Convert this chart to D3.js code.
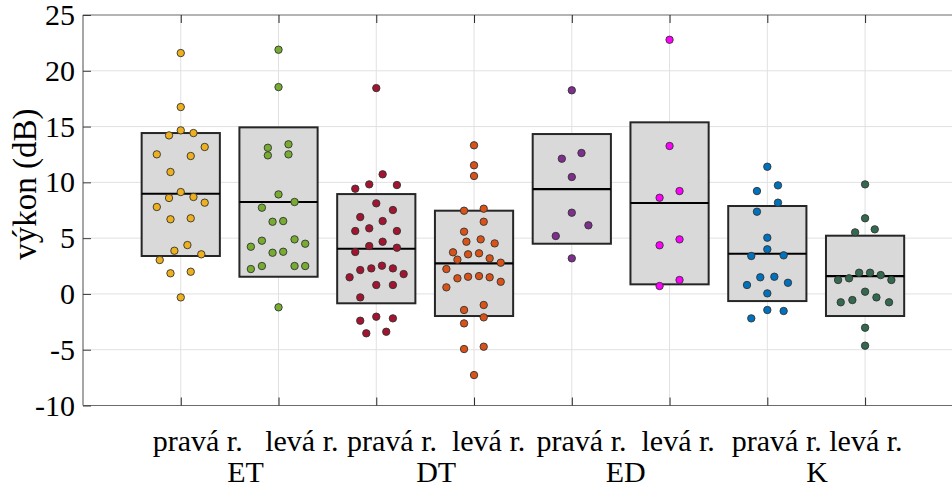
<!DOCTYPE html>
<html>
<head>
<meta charset="utf-8">
<script src="https://cdn.jsdelivr.net/npm/d3@7"></script>
<style>
  html, body { margin: 0; padding: 0; background: #fff; }
  svg text { font-family: "Liberation Serif", "Times New Roman", serif; fill: #000; }
</style>
</head>
<body>
<svg id="chart" width="952" height="488"></svg>
<script>
// Series order: ET (right, left), DT (right, left), ED (right, left), K (right, left)
const sideLabels = ["pravá r.", "levá r.", "pravá r.", "levá r.", "pravá r.", "levá r.", "pravá r.", "levá r."];
const groupNames = ["ET", "DT", "ED", "K"];
const groupLine1 = ["pravá r.   levá r.", "pravá r.  levá r.", "pravá r.  levá r.", "pravá r. levá r."];
const seriesColors = ["#EDB120", "#77AC30", "#A2142F", "#D95319", "#7E2F8E", "#FF00FF", "#0072BD", "#33694F"];

const yTicks = [-10, -5, 0, 5, 10, 15, 20, 25];

// Box statistics (lower edge, centre line, upper edge) in dB
const boxLower = [3.40, 1.54, -0.84, -1.98, 4.50, 0.86, -0.64, -1.98];
const boxMid   = [8.98, 8.24, 4.05, 2.74, 9.40, 8.15, 3.60, 1.60];
const boxUpper = [14.42, 14.93, 8.95, 7.46, 14.33, 15.38, 7.88, 5.22];

// Individual measurements (dB) for each series
const valsETright = [21.59, 16.75, 14.66, 14.42, 14.21, 13.17, 12.51, 12.36, 10.93, 9.13, 8.60, 8.69, 8.18, 7.79, 6.69, 6.78, 4.38, 3.87, 3.55, 3.04, 1.85, 1.99, -0.31];
const valsETleft  = [21.89, 18.54, 13.10, 13.41, 12.42, 12.51, 8.92, 8.24, 7.73, 6.47, 6.53, 4.77, 4.89, 4.23, 4.50, 3.69, 3.78, 2.23, 2.50, 2.50, 2.50, -1.20];
const valsDTright = [18.45, 10.72, 9.82, 9.76, 9.43, 8.12, 7.52, 6.89, 6.53, 5.64, 5.88, 5.64, 4.68, 4.29, 4.14, 3.76, 2.14, 2.29, 2.53, 2.29, 1.49, 1.78, 0.80, 0.80, -0.31, -2.04, -2.40, -2.19, -3.53, -3.39];
const valsDTleft  = [13.32, 11.53, 10.57, 7.46, 7.64, 6.47, 5.58, 4.68, 4.89, 4.53, 3.73, 3.55, 3.64, 3.07, 3.19, 2.80, 2.23, 1.40, 1.54, 1.60, 1.49, 1.09, 0.59, -0.99, -1.44, -2.10, -2.64, -4.94, -4.73, -7.27];
const valsEDright = [18.25, 12.63, 12.12, 10.48, 7.28, 6.15, 5.19, 3.19];
const valsEDleft  = [22.78, 13.26, 9.22, 8.62, 4.89, 4.36, 1.25, 0.71];
const valsKright  = [11.40, 9.73, 9.22, 8.18, 7.37, 5.04, 4.00, 3.40, 3.46, 1.49, 1.54, 0.80, 1.00, 0.05, -1.44, -1.53, -2.19];
const valsKleft   = [9.82, 6.78, 5.52, 5.79, 1.90, 1.90, 1.69, 1.40, 1.25, 1.25, 0.20, -0.55, -0.31, -0.75, -0.75, -3.03, -4.64];

// Horizontal spread of each point (swarm offset, in category units)
const jitETright = [0, 0, 0, 0.13, -0.12, 0.245, -0.245, 0.102, -0.105, 0, -0.12, 0.13, 0.245, -0.245, -0.105, 0.102, 0.068, -0.065, 0.21, -0.215, -0.105, 0.102, 0];
const jitETleft  = [0, 0, -0.109, 0.102, -0.109, 0.102, 0, 0.164, -0.17, -0.061, 0.048, -0.17, 0.164, -0.283, 0.273, -0.061, 0.048, -0.283, -0.17, 0.164, 0.273, 0];
const jitDTright = [0, 0.065, -0.072, 0.211, -0.215, 0, 0.17, -0.164, 0.065, -0.215, -0.072, 0.211, 0.065, -0.072, 0.211, -0.215, -0.164, -0.051, 0.058, 0.17, -0.273, 0.28, 0, 0.17, -0.164, 0, -0.164, 0.17, -0.102, 0.102];
const jitDTleft  = [0, 0, 0, -0.102, 0.099, 0.099, -0.102, -0.078, 0.068, 0.211, -0.215, -0.061, 0.051, -0.17, 0.16, 0.273, -0.283, -0.17, -0.061, 0.051, 0.16, 0.273, -0.283, 0.099, -0.102, 0.099, -0.102, -0.102, 0.099, 0];
const jitEDright = [0, 0.099, -0.102, 0, 0, 0.17, -0.164, 0];
const jitEDleft  = [0, 0, 0.102, -0.102, 0.102, -0.102, 0.102, -0.102];
const jitKright  = [0, 0.109, -0.106, 0.109, -0.106, 0, 0, -0.164, 0.167, -0.072, 0.072, -0.208, 0.211, 0, 0, 0.167, -0.164];
const jitKleft   = [0, 0, -0.102, 0.099, -0.061, 0.051, 0.16, -0.164, -0.276, 0.269, 0, -0.13, 0.116, -0.249, 0.245, 0, 0];

const seriesValues = [valsETright, valsETleft, valsDTright, valsDTleft, valsEDright, valsEDleft, valsKright, valsKleft];
const seriesJitter = [jitETright, jitETleft, jitDTright, jitDTleft, jitEDright, jitEDleft, jitKright, jitKleft];

// ---- layout ----
const FONT = '"Liberation Serif", "Times New Roman", serif';
const tickFont = 30, labelFont = 33;
const plotLeft = 83, plotTop = 15, plotBottom = 405.5;
const step = 97.76;            // distance between neighbouring categories
const boxWidth = 0.8;           // in category units

const svg = d3.select("#chart");

const x = d3.scaleLinear().domain([0, 9]).range([plotLeft, plotLeft + 9 * step]);
const y = d3.scaleLinear().domain([-10, 25]).range([plotBottom, plotTop]);
const catPos = i => i + 1;

const plotRight = x(9);

// clip so nothing spills beyond the axes frame
svg.append("defs").append("clipPath").attr("id", "plotclip")
  .append("rect").attr("x", plotLeft).attr("y", plotTop)
  .attr("width", plotRight - plotLeft).attr("height", plotBottom - plotTop);

// ---- grid ----
const grid = svg.append("g");
grid.selectAll("line.hg").data(yTicks.filter(t => t > -10 && t < 25)).join("line")
  .attr("x1", plotLeft).attr("x2", plotRight)
  .attr("y1", d => y(d)).attr("y2", d => y(d))
  .attr("stroke", "#e1e1e1").attr("stroke-width", 1);
grid.selectAll("line.vg").data(sideLabels).join("line")
  .attr("x1", (d, i) => x(catPos(i))).attr("x2", (d, i) => x(catPos(i)))
  .attr("y1", plotTop).attr("y2", plotBottom)
  .attr("stroke", "#e1e1e1").attr("stroke-width", 1);

// ---- boxes ----
const boxes = svg.append("g");
const half = (x(boxWidth) - x(0)) / 2;
boxes.selectAll("rect").data(boxMid).join("rect")
  .attr("x", (d, i) => x(catPos(i)) - half)
  .attr("y", (d, i) => y(boxUpper[i]))
  .attr("width", 2 * half)
  .attr("height", (d, i) => y(boxLower[i]) - y(boxUpper[i]))
  .attr("fill", "#d9d9d9").attr("stroke", "#262626").attr("stroke-width", 2);
boxes.selectAll("line").data(boxMid).join("line")
  .attr("x1", (d, i) => x(catPos(i)) - half)
  .attr("x2", (d, i) => x(catPos(i)) + half)
  .attr("y1", d => y(d)).attr("y2", d => y(d))
  .attr("stroke", "#000").attr("stroke-width", 2.2);

// ---- points ----
const pts = svg.append("g").attr("clip-path", "url(#plotclip)");
seriesValues.forEach((vals, s) => {
  pts.append("g").selectAll("circle").data(vals).join("circle")
    .attr("cx", (d, k) => x(catPos(s) + seriesJitter[s][k]))
    .attr("cy", d => y(d))
    .attr("r", 3.7)
    .attr("fill", seriesColors[s])
    .attr("stroke", "#333").attr("stroke-width", 0.9);
});

// ---- axes frame ----
const frame = svg.append("g").attr("stroke", "#6b6b6b").attr("stroke-width", 1.2).attr("fill", "none");
frame.append("line").attr("x1", plotLeft).attr("x2", plotLeft).attr("y1", plotTop).attr("y2", plotBottom);
frame.append("line").attr("x1", plotLeft).attr("x2", plotRight).attr("y1", plotTop).attr("y2", plotTop);
frame.append("line").attr("x1", plotLeft).attr("x2", plotRight).attr("y1", plotBottom).attr("y2", plotBottom);

// left axis (inward ticks)
const yAxis = d3.axisLeft(y).tickValues(yTicks).tickSize(-8).tickPadding(8).tickFormat(d3.format("d"));
const gy = svg.append("g").attr("transform", `translate(${plotLeft},0)`).call(yAxis);
gy.select(".domain").remove();
gy.selectAll(".tick line").attr("stroke", "#3a3a3a");
gy.selectAll(".tick text")
  .style("font-family", FONT).style("font-size", tickFont + "px").attr("fill", "#000")
  .text(d => (d < 0 ? "-" + Math.abs(d) : d));

// category ticks top and bottom (inward)
const xAxisB = d3.axisBottom(x).tickValues(sideLabels.map((d, i) => catPos(i))).tickSize(-8).tickFormat("");
const gxb = svg.append("g").attr("transform", `translate(0,${plotBottom})`).call(xAxisB);
gxb.select(".domain").remove();
gxb.selectAll(".tick line").attr("stroke", "#262626");
const xAxisT = d3.axisTop(x).tickValues(sideLabels.map((d, i) => catPos(i))).tickSize(-8).tickFormat("");
const gxt = svg.append("g").attr("transform", `translate(0,${plotTop})`).call(xAxisT);
gxt.select(".domain").remove();
gxt.selectAll(".tick line").attr("stroke", "#262626");

// ---- category labels: side line + group line, centred under each pair ----
const groupShift = [16, 11, 5, 1];
const labels = svg.append("g").attr("text-anchor", "middle");
groupNames.forEach((g, gi) => {
  const cx = (x(catPos(2 * gi)) + x(catPos(2 * gi + 1))) / 2 + groupShift[gi];
  labels.append("text").attr("x", cx).attr("y", 451)
    .attr("xml:space", "preserve")
    .style("white-space", "pre").style("font-family", FONT).style("font-size", tickFont + "px")
    .text(groupLine1[gi]);
  labels.append("text").attr("x", cx).attr("y", 482)
    .style("font-family", FONT).style("font-size", tickFont + "px")
    .text(g);
});

// ---- y label ----
svg.append("text")
  .attr("transform", `translate(36,184) rotate(-90)`)
  .attr("text-anchor", "middle")
  .style("font-family", FONT).style("font-size", labelFont + "px")
  .text("výkon (dB)");
</script>
</body>
</html>
